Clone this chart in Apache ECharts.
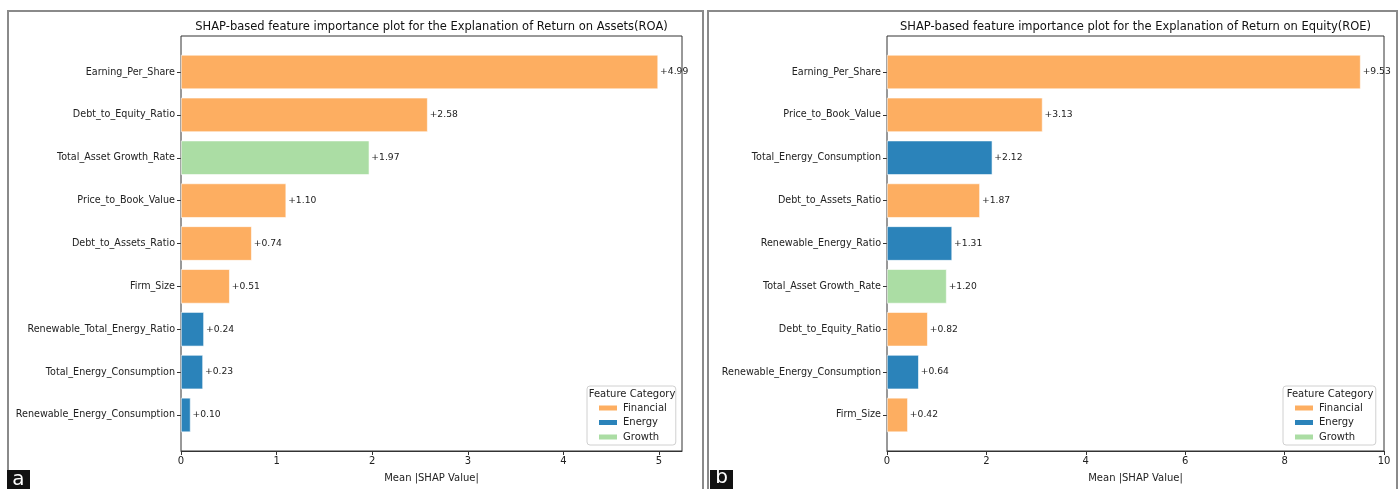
<!DOCTYPE html>
<html>
<head>
<meta charset="utf-8">
<script src="https://cdn.jsdelivr.net/npm/echarts@6/dist/echarts.min.js"></script>
<style>html,body{margin:0;padding:0;background:#fff;}#c{width:1400px;height:489px;}</style>
</head>
<body>
<div id="c"></div>
<script>
// ---- Data ----
const groupNames = ['Financial', 'Energy', 'Growth'];
const groupColors = ['#fdae61', '#2b83ba', '#abdda4'];

const roaCategories = ['Earning_Per_Share', 'Debt_to_Equity_Ratio', 'Total_Asset Growth_Rate', 'Price_to_Book_Value', 'Debt_to_Assets_Ratio', 'Firm_Size', 'Renewable_Total_Energy_Ratio', 'Total_Energy_Consumption', 'Renewable_Energy_Consumption'];
const roaValues = [4.99, 2.58, 1.97, 1.10, 0.74, 0.51, 0.24, 0.23, 0.10];
const roaGroups = ['Financial', 'Financial', 'Growth', 'Financial', 'Financial', 'Financial', 'Energy', 'Energy', 'Energy'];
const roaTicks = [0, 1, 2, 3, 4, 5];

const roeCategories = ['Earning_Per_Share', 'Price_to_Book_Value', 'Total_Energy_Consumption', 'Debt_to_Assets_Ratio', 'Renewable_Energy_Ratio', 'Total_Asset Growth_Rate', 'Debt_to_Equity_Ratio', 'Renewable_Energy_Consumption', 'Firm_Size'];
const roeValues = [9.53, 3.13, 2.12, 1.87, 1.31, 1.20, 0.82, 0.64, 0.42];
const roeGroups = ['Financial', 'Financial', 'Energy', 'Financial', 'Energy', 'Growth', 'Financial', 'Energy', 'Financial'];
const roeTicks = [0, 2, 4, 6, 8, 10];

const roaTitle = 'SHAP-based feature importance plot for the Explanation of Return on Assets(ROA)';
const roeTitle = 'SHAP-based feature importance plot for the Explanation of Return on Equity(ROE)';
const xName = 'Mean |SHAP Value|';
const legendTitle = 'Feature Category';

// ---- Layout ----
const FONT = 'DejaVu Sans';
const frameTop = 36, frameBottom = 451;
const unit = (frameBottom - frameTop) / 9.68;
const bandTop = frameTop + 0.34 * unit;
const bandHeight = 9 * unit;

const panels = [
  {cats: roaCategories, vals: roaValues, groups: roaGroups, ticks: roaTicks, title: roaTitle, left: 181, right: 682, max: 5.24, legendLeft: 587, legendRight: 677},
  {cats: roeCategories, vals: roeValues, groups: roeGroups, ticks: roeTicks, title: roeTitle, left: 887, right: 1384, max: 10.0, legendLeft: 1283, legendRight: 1377}
];

const grid = [], xAxis = [], yAxis = [], series = [], title = [], legend = [];
panels.forEach((p, pi) => {
  const w = p.right - p.left;
  grid.push({left: p.left, top: frameTop, width: w, height: frameBottom - frameTop, show: true, borderColor: '#333', borderWidth: 1, backgroundColor: 'transparent'});
  grid.push({left: p.left, top: bandTop, width: w, height: bandHeight});
  xAxis.push({
    type: 'value', gridIndex: 2 * pi, min: 0, max: p.max,
    name: xName, nameLocation: 'middle', nameGap: 22,
    nameTextStyle: {fontFamily: FONT, fontSize: 10, color: '#222'},
    axisLine: {show: true, lineStyle: {color: '#333', width: 1}},
    axisTick: {show: true, length: 4, lineStyle: {color: '#333'}, customValues: p.ticks},
    axisLabel: {fontFamily: FONT, fontSize: 10, color: '#222', margin: 5, customValues: p.ticks},
    splitLine: {show: false}
  });
  xAxis.push({type: 'value', gridIndex: 2 * pi + 1, min: 0, max: p.max, show: false});
  yAxis.push({type: 'value', gridIndex: 2 * pi, min: 0, max: 1, show: false});
  yAxis.push({
    type: 'category', gridIndex: 2 * pi + 1, inverse: true, data: p.cats,
    axisLine: {show: false},
    axisTick: {show: true, alignWithLabel: true, length: 4, lineStyle: {color: '#333'}},
    axisLabel: {fontFamily: FONT, fontSize: 9.6, color: '#222', margin: 6},
    splitLine: {show: false}
  });
  groupNames.forEach((g, gi) => {
    series.push({
      type: 'bar', name: g, xAxisIndex: 2 * pi + 1, yAxisIndex: 2 * pi + 1,
      stack: 'p' + pi, barCategoryGap: '20%',
      itemStyle: {color: groupColors[gi], borderColor: '#ffffff', borderWidth: 0.6},
      label: {show: true, position: 'right', distance: 2, fontFamily: FONT, fontSize: 9.2, color: '#222',
        formatter: (d) => '+' + Number(d.value).toFixed(2)},
      data: p.vals.map((v, i) => p.groups[i] === g ? v : null)
    });
  });
  title.push({
    text: p.title, left: (p.left + p.right) / 2, top: 21, textAlign: 'center', padding: 0,
    textStyle: {fontFamily: FONT, fontSize: 11.5, fontWeight: 'normal', color: '#111'}
  });
  title.push({
    text: legendTitle, left: (p.legendLeft + p.legendRight) / 2, top: 389, textAlign: 'center', padding: 0,
    textStyle: {fontFamily: FONT, fontSize: 10, fontWeight: 'normal', color: '#222'}
  });
  legend.push({
    data: groupNames, orient: 'vertical', left: p.legendLeft, top: 386,
    padding: [17, p.legendRight - p.legendLeft - 10 - 20 - 7 - 44, 3, 10],
    itemWidth: 20, itemHeight: 7, itemGap: 4.5,
    icon: 'rect', borderColor: '#d0d0d0', borderWidth: 1, borderRadius: 3, backgroundColor: '#fff',
    textStyle: {fontFamily: FONT, fontSize: 10, color: '#222', lineHeight: 10},
    selectedMode: false
  });
});

const chart = echarts.init(document.getElementById('c'), null, {renderer: 'canvas'});
chart.setOption({
  animation: false,
  backgroundColor: '#fff',
  grid, xAxis, yAxis, series, title, legend,
  graphic: [
    {type: 'rect', shape: {x: 8, y: 11, width: 695, height: 490}, style: {fill: 'none', stroke: '#8a8a8a', lineWidth: 2}, z: 0},
    {type: 'rect', shape: {x: 708, y: 11, width: 689, height: 490}, style: {fill: 'none', stroke: '#8a8a8a', lineWidth: 2}, z: 0},
    {type: 'rect', shape: {x: 7, y: 470, width: 23, height: 19}, style: {fill: '#111'}, z: 10},
    {type: 'text', x: 18.5, y: 480, style: {text: 'a', fill: '#fff', font: '20px "DejaVu Sans"', align: 'center', verticalAlign: 'middle'}, z: 11},
    {type: 'rect', shape: {x: 710, y: 470, width: 23, height: 19}, style: {fill: '#111'}, z: 10},
    {type: 'text', x: 721.5, y: 478, style: {text: 'b', fill: '#fff', font: '20px "DejaVu Sans"', align: 'center', verticalAlign: 'middle'}, z: 11}
  ]
});
</script>
</body>
</html>
